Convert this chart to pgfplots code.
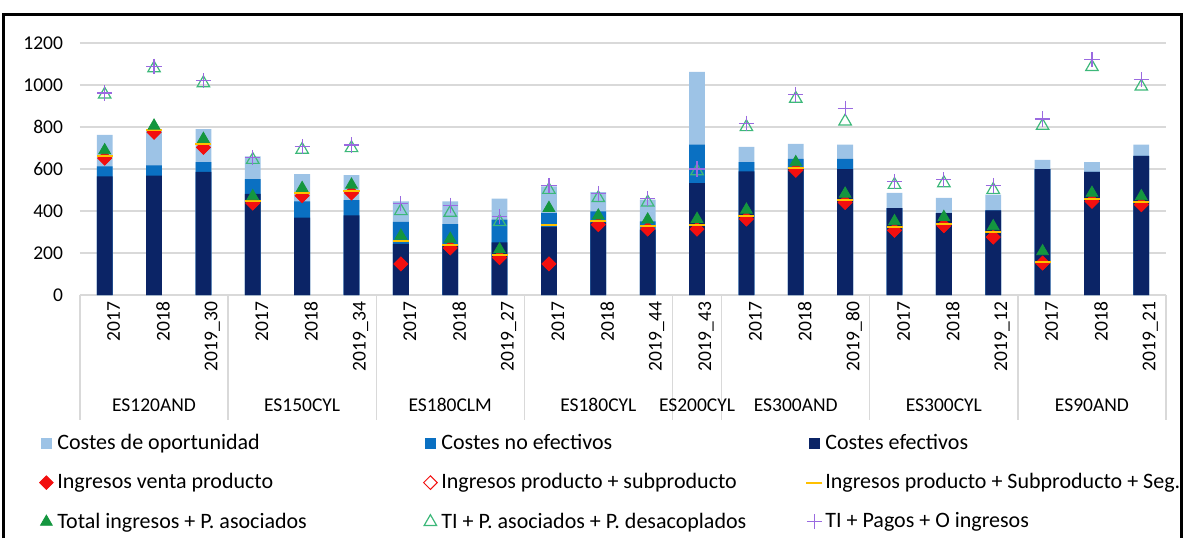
\documentclass[border=0pt]{standalone}
\usepackage{fontspec}
\setmainfont{Carlito}
\usepackage{pgfplots}
\usepackage{pgfplotstable}
\pgfplotsset{compat=1.18}

\definecolor{cDark}{HTML}{0B2466}
\definecolor{cMid}{HTML}{0A70C2}
\definecolor{cLight}{HTML}{9DC3E6}
\definecolor{cRed}{HTML}{F20F0F}
\definecolor{cYel}{HTML}{FFC000}
\definecolor{cGreen}{HTML}{14963F}
\definecolor{cTri}{HTML}{3DB87A}
\definecolor{cPlus}{HTML}{9A6AE0}
\definecolor{cGrid}{HTML}{D9D9D9}

\pgfplotsset{
  sqleg/.style={legend image code/.code={\path[draw=none,fill=none] (-4pt,-4pt) rectangle (4pt,4pt);
      \fill[#1] (-2.6pt,-2.6pt) rectangle (2.6pt,2.6pt);}},
  mkleg/.style={legend image code/.code={\path[draw=none,fill=none] (-4pt,-4pt) rectangle (4pt,4pt);
      \draw[##1] plot coordinates {(0pt,0pt)};}},
}

% x, cumulative bar tops (dark, mid, light), then the marker series
\pgfplotstableread{
x dark mid light red opn yel green otri plus
0  565 613 763  652 652 662 689  955 962
1  568 617 780  775 775 785 806 1080 1090
2  586 633 790  703 703 718 743 1009 1020
3  482 552 660  438 438 450 470  644 655
4  368 446 576  473 473 485 509  692 706
5  379 452 571  486 486 497 525  700 714
6  244 348 446  148 148 255 282  400 435
7  235 338 446  224 224 238 267  392 428
8  251 359 459  178 178 192 217  348 374
9  324 390 517  148 148 332 414  501 522
10 346 398 490  335 335 354 378  462 484
11 311 351 454  314 314 330 359  441 460
12 533 716 1062 314 314 332 362  590 600
13 589 633 705  362 362 378 406  800 818
14 600 648 720  594 594 605 632  935 955
15 600 648 716  441 441 454 482  827 890
16 414 414 486  308 308 324 351  525 541
17 390 390 462  330 330 340 371  533 549
18 403 403 478  276 276 300 327  501 521
19 600 600 644  152 152 157 208  806 838
20 586 586 633  446 446 457 486 1086 1120
21 663 663 716  430 430 441 470  993 1025
}\data

\newcommand{\lab}{\fontsize{9.75}{11}\selectfont}
\newcommand{\legf}{\fontsize{11}{13}\selectfont}

\begin{document}
\begin{tikzpicture}
\useasboundingbox (0,0) rectangle (592pt,269pt);
\begin{axis}[
    at={(40pt,121.5pt)}, anchor=south west,
    scale only axis, width=543pt, height=126pt,
    xmin=-0.5, xmax=21.5, ymin=0, ymax=1200,
    clip=false,
    axis line style={draw=none},
    major tick length=0pt,
    ytick={0,200,...,1200},
    ymajorgrids, grid style={cGrid, line width=0.6pt},
    yticklabel style={font=\lab, xshift=-5pt},
    /pgf/number format/assume math mode=true,
    /pgf/number format/1000 sep={},
    xtick={0,...,21},
    xticklabels={2017,2018,2019\_30,2017,2018,2019\_34,2017,2018,2019\_27,
                 2017,2018,2019\_44,2019\_43,2017,2018,2019\_80,
                 2017,2018,2019\_12,2017,2018,2019\_21},
    xticklabel style={font=\lab, rotate=90, anchor=east, yshift=-4.5pt},
    legend columns=3,
    legend cell align=left,
    legend style={at={(0,0)}, anchor=north west, xshift=-21pt, yshift=-67.4pt,
        draw=none, fill=none, font=\legf, inner sep=0pt,
        row sep=6.5pt, column sep=0pt,
        nodes={inner xsep=1.5pt}},
]
\addplot[ybar, bar width=0.32, bar shift=0pt, fill=cLight, draw=none, sqleg=cLight]
    table[x=x, y=light]{\data};
\addlegendentry{\makebox[181pt][l]{Costes de oportunidad}}
\addplot[ybar, bar width=0.32, bar shift=0pt, fill=cMid, draw=none, sqleg=cMid]
    table[x=x, y=mid]{\data};
\addlegendentry{\makebox[181pt][l]{Costes no efectivos}}
\addplot[ybar, bar width=0.32, bar shift=0pt, fill=cDark, draw=none, sqleg=cDark]
    table[x=x, y=dark]{\data};
\addlegendentry{\makebox[181pt][l]{Costes efectivos}}

\addplot[only marks, mark=square*, mark size=2.4pt, color=cRed,
    mark options={rotate=45, fill=cRed, draw=cRed}, mkleg]
    table[x=x, y=red]{\data};
\addlegendentry{Ingresos venta producto}
\addplot[only marks, mark=square, mark size=2.4pt, color=cRed,
    mark options={rotate=45, draw=cRed, line width=0.5pt}, mkleg]
    table[x=x, y=opn]{\data};
\addlegendentry{Ingresos producto + subproducto}
\addplot[only marks, mark=-, mark size=4pt, color=cYel,
    mark options={line width=1pt}, mkleg]
    table[x=x, y=yel]{\data};
\addlegendentry{Ingresos producto + Subproducto + Seg.}

\addplot[only marks, mark=triangle*, mark size=3.4pt, color=cGreen,
    mark options={fill=cGreen, draw=cGreen}, mkleg]
    table[x=x, y=green]{\data};
\addlegendentry{Total ingresos + P. asociados}
\addplot[only marks, mark=triangle, mark size=3.6pt, color=cTri,
    mark options={line width=0.6pt}, mkleg]
    table[x=x, y=otri]{\data};
\addlegendentry{TI + P. asociados + P. desacoplados}
\addplot[only marks, mark=+, mark size=3.8pt, color=cPlus,
    mark options={line width=0.6pt}, mkleg]
    table[x=x, y=plus]{\data};
\addlegendentry{TI + Pagos + O ingresos}

% category table below the axis
\foreach \s in {-0.5,2.5,5.5,8.5,11.5,12.5,15.5,18.5,21.5}{
  \edef\tmp{\noexpand\draw[cGrid, line width=0.6pt] (axis cs:\s,0) -- ([yshift=-62.5pt]axis cs:\s,0);}\tmp
}
\foreach \c/\t in {1/ES120AND,4/ES150CYL,7/ES180CLM,10/ES180CYL,12/ES200CYL,
                   14/ES300AND,17/ES300CYL,20/ES90AND}{
  \edef\tmp{\noexpand\node[font=\noexpand\lab] at (axis cs:\c,0) [yshift=-55pt] {\t};}\tmp
}
\end{axis}
\draw[line width=1.5pt] (1.5pt,0) -- (1.5pt,262pt) -- (590.5pt,262pt) -- (590.5pt,0);
\end{tikzpicture}
\end{document}
